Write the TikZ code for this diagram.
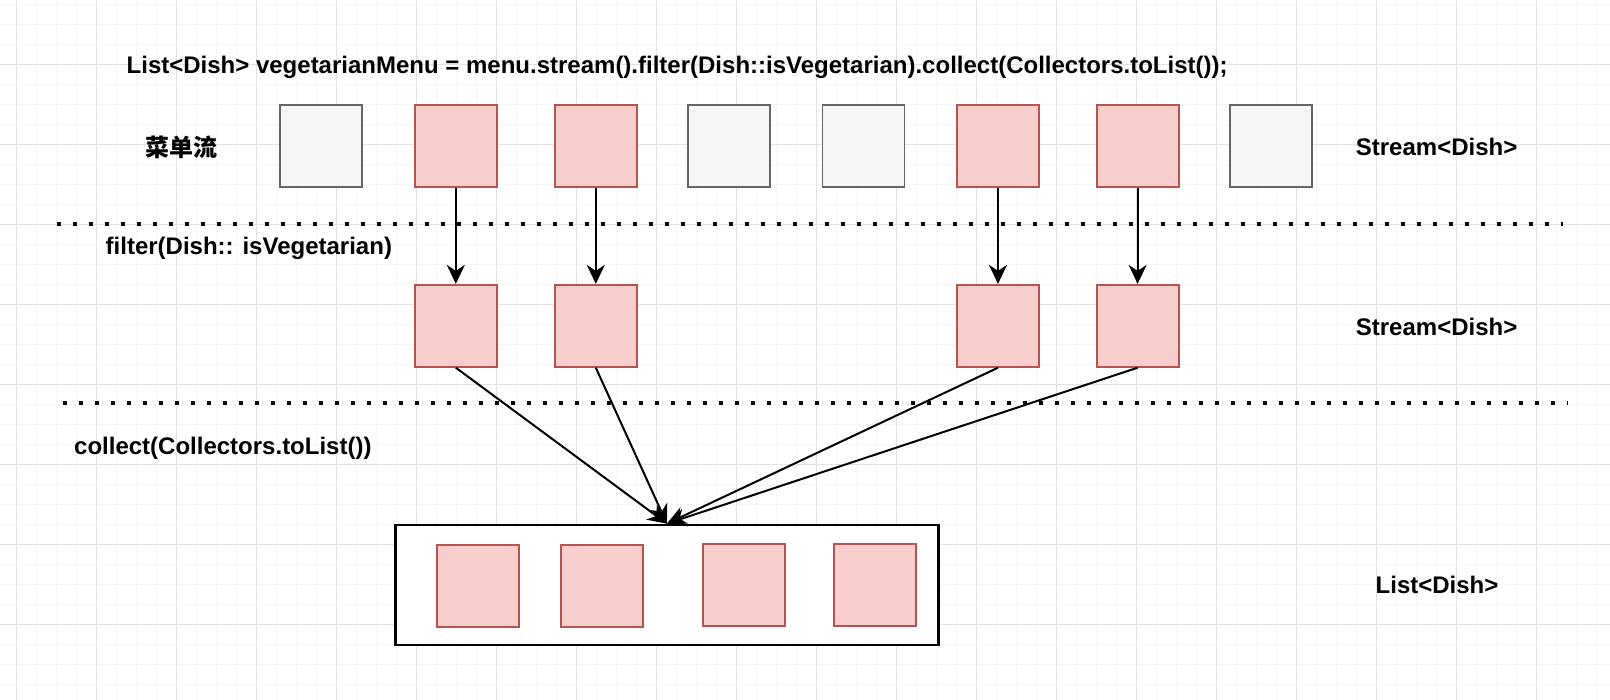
\documentclass[tikz,border=0pt]{standalone}
\usepackage{fontspec}
\setmainfont{Liberation Sans}[Ligatures=CommonOff]
\newfontfamily\cjk{Noto Sans CJK SC}
\usetikzlibrary{arrows.meta}
\definecolor{gridminor}{HTML}{F5F5F5}
\definecolor{gridmajor}{HTML}{E2E2E2}
\definecolor{pinkfill}{HTML}{F8CECC}
\definecolor{pinkline}{HTML}{B85450}
\definecolor{grayfill}{HTML}{F5F5F5}
\definecolor{grayline}{HTML}{666666}
\begin{document}
\begin{tikzpicture}[x=1pt,y=-1pt,
  lbl/.style={inner sep=0pt, font=\fontsize{24}{28}\selectfont\bfseries, anchor=base west},
  cjklbl/.style={inner sep=0pt, font=\fontsize{24}{28}\selectfont\cjk\bfseries},
  gbox/.style={draw=grayline, fill=grayfill, line width=1.8pt, minimum size=82pt, inner sep=0pt},
  pbox/.style={draw=pinkline, fill=pinkfill, line width=1.8pt, minimum size=82pt, inner sep=0pt},
  listbox/.style={draw=black, fill=white, line width=2.2pt, minimum width=543pt, minimum height=120pt, inner sep=0pt},
  arr/.style={line width=2pt, -{Stealth[length=19pt,width=18pt,inset=6pt]}},
  dotline/.style={line width=4pt, dash pattern=on 4pt off 12pt},
  gminor/.style={draw=gridminor, line width=0.9pt},
  gmajor/.style={draw=gridmajor, line width=0.9pt}]
\useasboundingbox (0,0) rectangle (1610,700);
\fill[white] (0,0) rectangle (1610,700);
% grid
\foreach \k in {0,...,79} \draw[gminor] ({16.7+20*\k},0) -- ({16.7+20*\k},700);
\foreach \k in {0,...,34} \draw[gminor] (0,{4.3+20*\k}) -- (1610,{4.3+20*\k});
\foreach \k in {0,...,19} \draw[gmajor] ({16.7+80*\k},0) -- ({16.7+80*\k},700);
\foreach \k in {0,...,7} \draw[gmajor] (0,{64.3+80*\k}) -- (1610,{64.3+80*\k});
% dotted separators
\coordinate (d1a) at (56.7,224);
\coordinate (d1b) at (1563,224);
\coordinate (d2a) at (63.3,403.5);
\coordinate (d2b) at (1568,403.5);
\draw[dotline] (d1a) -- (d1b);
\draw[dotline] (d2a) -- (d2b);
% top row
\node[gbox] (a1) at (321.3,145.8) {};
\node[pbox] (a2) at (455.8,145.8) {};
\node[pbox] (a3) at (595.8,145.8) {};
\node[gbox] (a4) at (729.0,145.8) {};
\node[gbox] (a5) at (863.5,145.8) {};
\node[pbox] (a6) at (998.0,145.8) {};
\node[pbox] (a7) at (1137.6,145.8) {};
\node[gbox] (a8) at (1271.0,145.8) {};
% second row
\node[pbox] (b1) at (455.8,325.8) {};
\node[pbox] (b2) at (595.8,325.8) {};
\node[pbox] (b3) at (998.0,325.8) {};
\node[pbox] (b4) at (1137.6,325.8) {};
% list container
\node[listbox] (cont) at (666.9,584.75) {};
\node[pbox] (c1) at (478.2,586.0) {};
\node[pbox] (c2) at (601.8,586.0) {};
\node[pbox] (c3) at (743.7,584.8) {};
\node[pbox] (c4) at (875.2,584.8) {};
% arrows
\draw[arr] (a2.south) -- (b1.north);
\draw[arr] (a3.south) -- (b2.north);
\draw[arr] (a6.south) -- (b3.north);
\draw[arr] (a7.south) -- (b4.north);
\draw[arr] (b1.south) -- (cont.north);
\draw[arr] (b2.south) -- (cont.north);
\draw[arr] (b3.south) -- (cont.north);
\draw[arr] (b4.south) -- (cont.north);
% labels
\node[lbl] (code) at (126.5,73.5) {List<Dish> vegetarianMenu = menu.stream().filter(Dish::isVegetarian).collect(Collectors.toList());};
\node[cjklbl] (cn) at (181.7,147.5) {菜单流};
\node[lbl] (s1) at (1355.7,156) {Stream<Dish>};
\node[lbl] (flt) at (105.5,254.5) {filter(Dish:: isVegetarian)};
\node[lbl] (s2) at (1355.7,336) {Stream<Dish>};
\node[lbl] (col) at (74,454.5) {collect(Collectors.toList())};
\node[lbl] (l1) at (1375.5,593.3) {List<Dish>};
\end{tikzpicture}
\end{document}
